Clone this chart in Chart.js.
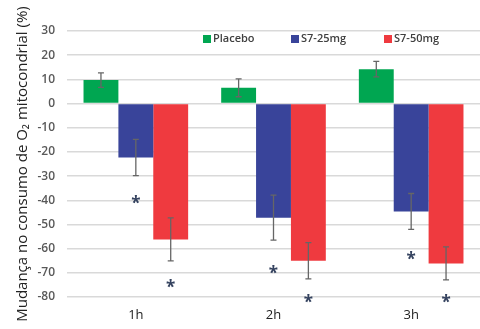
<!DOCTYPE html>
<html><head><meta charset="utf-8">
<script src="https://cdn.jsdelivr.net/npm/chart.js@4/dist/chart.umd.min.js"></script>
<style>html,body{margin:0;padding:0;background:#fff}#w{width:480px;height:329px}</style>
</head><body><div id="w"><canvas id="c"></canvas></div>
<script>
const categories = ['1h', '2h', '3h'];
const seriesNames = ['Placebo', 'S7-25mg', 'S7-50mg'];
const placebo = [9.7, 6.5, 14.2];
const s725 = [-22.3, -47.2, -44.6];
const s750 = [-56.2, -65.0, -66.1];
const placeboErr = [3.0, 3.7, 3.2];
const s725Err = [7.5, 9.3, 7.4];
const s750Err = [8.9, 7.5, 6.8];
const s725Star = [-40.5, -69.5, -63.4];
const s750Star = [-75.0, -81.2, -81.2];
const yTicks = [30, 20, 10, 0, -10, -20, -30, -40, -50, -60, -70, -80];
const colors = ['#00a651', '#39449a', '#ef3a3f'];

const errs = [placeboErr, s725Err, s750Err];
const stars = [null, s725Star, s750Star];

const overlay = {
  id: 'overlay',
  afterDatasetsDraw(chart) {
    const ctx = chart.ctx, y = chart.scales.y;
    ctx.save();
    chart.data.datasets.forEach((ds, di) => {
      const meta = chart.getDatasetMeta(di);
      meta.data.forEach((bar, i) => {
        const v = ds.data[i], e = errs[di][i];
        const y1 = y.getPixelForValue(v + e), y2 = y.getPixelForValue(v - e);
        ctx.strokeStyle = '#666';
        ctx.lineWidth = 1.3;
        ctx.beginPath();
        ctx.moveTo(bar.x, y1); ctx.lineTo(bar.x, y2);
        ctx.moveTo(bar.x - 3, y1); ctx.lineTo(bar.x + 3, y1);
        ctx.moveTo(bar.x - 3, y2); ctx.lineTo(bar.x + 3, y2);
        ctx.stroke();
        if (stars[di]) {
          ctx.fillStyle = '#34425f';
          ctx.font = 'bold 17px "Open Sans"';
          ctx.textAlign = 'center';
          ctx.textBaseline = 'middle';
          ctx.fillText('*', bar.x, y.getPixelForValue(stars[di][i]) + 3);
        }
      });
    });
    // legend
    const lx = [203, 291, 384], ly = 39;
    ctx.font = '600 11px "Open Sans"';
    ctx.textAlign = 'left';
    ctx.textBaseline = 'middle';
    chart.data.datasets.forEach((ds, di) => {
      ctx.fillStyle = ds.backgroundColor;
      ctx.fillRect(lx[di], ly - 4, 8, 8);
      ctx.fillStyle = '#404040';
      ctx.fillText(ds.label, lx[di] + 10, ly);
    });
    ctx.restore();
  }
};

new Chart(document.getElementById('c'), {
  type: 'bar',
  data: {
    labels: categories,
    datasets: [
      { label: seriesNames[0], data: placebo, backgroundColor: colors[0] },
      { label: seriesNames[1], data: s725, backgroundColor: colors[1] },
      { label: seriesNames[2], data: s750, backgroundColor: colors[2] }
    ]
  },
  options: {
    responsive: true, maintainAspectRatio: false, animation: false,
    layout: { padding: { top: 31, right: 0, bottom: 0, left: 0 } },
    datasets: { bar: { categoryPercentage: 0.76, barPercentage: 1.0 } },
    plugins: { legend: { display: false }, tooltip: { enabled: false } },
    scales: {
      x: {
        grid: { display: false, drawTicks: false },
        border: { display: false },
        ticks: { color: '#222', font: { family: 'Open Sans', size: 13 }, padding: 10 },
        afterFit(s) { s.height = 32; }
      },
      y: {
        min: -80, max: 30,
        afterBuildTicks(s) { s.ticks = yTicks.map(v => ({ value: v })); },
        grid: { color: '#d9d9d9', lineWidth: 1.5, drawTicks: false },
        border: { display: false },
        ticks: { color: '#595959', font: { family: 'Open Sans', size: 12, weight: '600' }, padding: 12 },
        title: { display: true, text: 'Mudança no consumo de O₂ mitocondrial (%)', color: '#222',
                 font: { family: 'Open Sans', size: 15 }, padding: { top: 14, bottom: 0 } },
        afterFit(s) { s.width = 67; }
      }
    }
  },
  plugins: [overlay]
});
</script></body></html>
